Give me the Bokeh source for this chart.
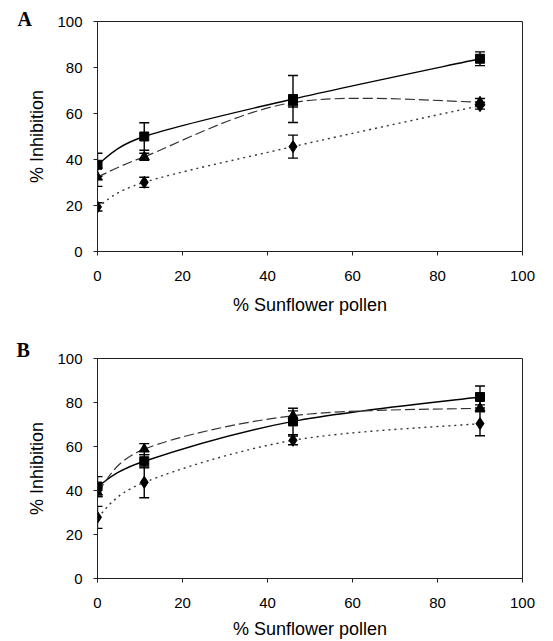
from bokeh.plotting import figure
from bokeh.models import ColumnDataSource, Whisker, TeeHead, Title, FixedTicker, Range1d
from bokeh.layouts import column
from bokeh.embed import file_html
from bokeh.resources import INLINE

# ---- data ----
x_pct = [0, 11, 46, 90]
tick_values = [0, 20, 40, 60, 80, 100]

a_square = [37.7, 50.0, 66.3, 83.8]
a_square_err = [5.0, 6.0, 10.2, 3.0]
a_triangle = [32.3, 41.2, 64.8, 65.0]
a_triangle_err = [4.0, 1.5, 2.0, 1.5]
a_diamond = [19.4, 30.1, 45.6, 63.4]
a_diamond_err = [1.8, 2.2, 5.0, 1.5]

b_square = [41.8, 53.3, 71.4, 82.5]
b_square_err = [4.5, 3.0, 6.0, 5.0]
b_triangle = [39.2, 58.8, 74.0, 77.4]
b_triangle_err = [2.0, 2.5, 2.2, 1.5]
b_diamond = [27.8, 43.7, 62.8, 70.4]
b_diamond_err = [5.0, 7.0, 2.0, 5.5]

x_title = "% Sunflower pollen"
y_title = "% Inhibition"


def smooth_segments(xs, ys):
    n = len(xs)
    d = dict(x0=[], y0=[], x1=[], y1=[], cx0=[], cy0=[], cx1=[], cy1=[])
    for i in range(n - 1):
        xp, yp = (xs[i - 1], ys[i - 1]) if i > 0 else (xs[i], ys[i])
        xn, yn = (xs[i + 2], ys[i + 2]) if i + 2 < n else (xs[i + 1], ys[i + 1])
        d["x0"].append(xs[i]); d["y0"].append(ys[i])
        d["x1"].append(xs[i + 1]); d["y1"].append(ys[i + 1])
        d["cx0"].append(xs[i] + (xs[i + 1] - xp) / 6.0)
        d["cy0"].append(ys[i] + (ys[i + 1] - yp) / 6.0)
        d["cx1"].append(xs[i + 1] - (xn - xs[i]) / 6.0)
        d["cy1"].append(ys[i + 1] - (yn - ys[i]) / 6.0)
    return ColumnDataSource(d)


def make_panel(letter, letter_offset, letter_standoff, sq, sqe, tr, tre, di, die,
               h, bl, br, bt, bb, title_standoff):
    p = figure(width=553, height=h, x_range=Range1d(0, 100), y_range=Range1d(0, 100),
               output_backend="svg", toolbar_location=None,
               min_border_left=bl, min_border_right=br,
               min_border_top=bt, min_border_bottom=bb)
    p.background_fill_color = "white"
    p.border_fill_color = "white"
    p.outline_line_color = "#222222"
    p.outline_line_width = 1
    p.xgrid.visible = False
    p.ygrid.visible = False
    for ax in (p.xaxis[0], p.yaxis[0]):
        ax.ticker = FixedTicker(ticks=tick_values)
        ax.axis_line_color = "#222222"
        ax.major_tick_line_color = "#222222"
        ax.major_tick_out = 4
        ax.major_tick_in = 0
        ax.minor_tick_line_color = None
        ax.major_label_text_font = "Liberation Sans"
        ax.major_label_text_font_size = "15px"
        ax.major_label_text_color = "black"
        ax.axis_label_text_font = "Liberation Sans"
        ax.axis_label_text_font_size = "18px"
        ax.axis_label_text_font_style = "normal"
        ax.axis_label_text_color = "black"
    p.xaxis.axis_label = x_title
    p.yaxis.axis_label = y_title
    p.xaxis.major_label_standoff = 15
    p.xaxis.axis_label_standoff = title_standoff
    p.yaxis.major_label_standoff = 11
    p.yaxis.axis_label_standoff = 7

    series = [
        (sq, sqe, "black", 1.4, "solid", "square", 9),
        (tr, tre, "#333333", 1.2, "10 4", "triangle", 10),
        (di, die, "#333333", 1.4, "2 4", "diamond", 12),
    ]
    for ys, es, col, lw, dash, mk, sz in series:
        p.bezier(x0="x0", y0="y0", x1="x1", y1="y1", cx0="cx0", cy0="cy0",
                 cx1="cx1", cy1="cy1", source=smooth_segments(x_pct, ys),
                 line_color=col, line_width=lw, line_dash=dash)
    for ys, es, col, lw, dash, mk, sz in series:
        src = ColumnDataSource(dict(x=x_pct, lo=[y - e for y, e in zip(ys, es)],
                                    hi=[y + e for y, e in zip(ys, es)]))
        w = Whisker(base="x", lower="lo", upper="hi", source=src,
                    line_color="black", line_width=1.4,
                    upper_head=TeeHead(size=10, line_color="black", line_width=1.4),
                    lower_head=TeeHead(size=10, line_color="black", line_width=1.4))
        p.add_layout(w)
    for ys, es, col, lw, dash, mk, sz in series:
        p.scatter(x=x_pct, y=ys, marker=mk, size=sz, fill_color="black",
                  line_color="black")

    p.add_layout(Title(text=letter, align="left", offset=letter_offset,
                       standoff=letter_standoff, vertical_align="bottom",
                       text_font="Liberation Serif", text_font_style="bold",
                       text_font_size="20px", text_color="black"), "above")
    return p


pA = make_panel("A", -80, -17, a_square, a_square_err, a_triangle, a_triangle_err,
                a_diamond, a_diamond_err, h=320, bl=92, br=31, bt=21, bb=69,
                title_standoff=11)
pB = make_panel("B", -81, -4, b_square, b_square_err, b_triangle, b_triangle_err,
                b_diamond, b_diamond_err, h=321, bl=97, br=17, bt=38, bb=63,
                title_standoff=8)

layout = column(pA, pB)
open("out.html", "w").write(file_html(layout, INLINE))
